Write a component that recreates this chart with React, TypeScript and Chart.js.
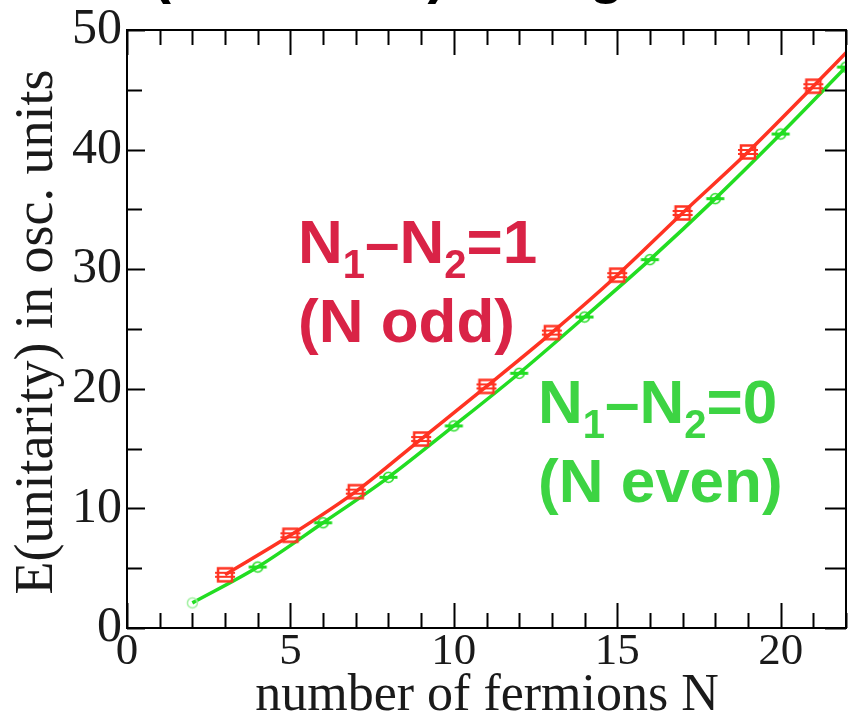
import React, { useEffect, useRef } from 'react';
import { Chart, registerables } from 'chart.js';

Chart.register(...registerables);

// ---- data ----
const oddN = [3, 5, 7, 9, 11, 13, 15, 17, 19, 21];
const oddE = [4.45, 7.75, 11.4, 15.8, 20.2, 24.7, 29.5, 34.7, 39.8, 45.3];
const evenN = [2, 4, 6, 8, 10, 12, 14, 16, 18, 20, 22];
const evenE = [2.1, 5.1, 8.8, 12.6, 16.9, 21.3, 26.0, 30.8, 35.9, 41.3, 46.9];
const oddCurveEndN = [22];
const oddCurveEndE = [48.1];
const xTickValues = [0, 5, 10, 15, 20];
const yTickValues = [0, 10, 20, 30, 40, 50];
const xRange = [0, 22];
const yRange = [0, 50];

const xTitle = 'number of fermions N';
const yTitle = 'E(unitarity) in osc. units';
const topTitle = '(harmonic) Energies';

// ---- styles ----
const RED_LINE = '#ff3322';
const GREEN_LINE = '#22dd22';
const GREEN_LIGHT = '#9ef09e';
const RED_TEXT = '#d92346';
const GREEN_TEXT = '#3dd443';
const AXIS_TEXT = '#1a1a1a';
const SERIF = '"Liberation Serif", "Times New Roman", serif';
const SANS = '"Liberation Sans", Arial, sans-serif';

function makeRedMarker() {
  const c = document.createElement('canvas');
  c.width = 22;
  c.height = 18;
  const g = c.getContext('2d')!;
  g.strokeStyle = RED_LINE;
  g.lineWidth = 2.5;
  g.strokeRect(4, 2.5, 14, 13);
  g.lineWidth = 2;
  g.beginPath();
  g.moveTo(1, 7);
  g.lineTo(21, 7);
  g.moveTo(1, 11);
  g.lineTo(21, 11);
  g.stroke();
  return c;
}

function makeGreenMarker(color: string, bar: boolean) {
  const c = document.createElement('canvas');
  c.width = 21;
  c.height = 15;
  const g = c.getContext('2d')!;
  g.strokeStyle = color;
  g.lineWidth = 1.5;
  g.beginPath();
  g.arc(10.5, 7.5, 5, 0, Math.PI * 2);
  g.stroke();
  if (bar) {
    g.lineWidth = 3;
    g.beginPath();
    g.moveTo(1.5, 7.5);
    g.lineTo(19.5, 7.5);
    g.stroke();
  }
  return c;
}

type Part = [string, boolean];
function drawParts(ctx: CanvasRenderingContext2D, x: number, y: number, parts: Part[], color: string) {
  ctx.fillStyle = color;
  ctx.textAlign = 'left';
  ctx.textBaseline = 'alphabetic';
  let cx = x;
  for (const [t, sub] of parts) {
    ctx.font = sub ? `bold 40px ${SANS}` : `bold 62px ${SANS}`;
    ctx.fillText(t, cx, sub ? y + 15 : y);
    cx += ctx.measureText(t).width;
  }
}

const decorPlugin = {
  id: 'decor',
  afterDraw(chart: any) {
    const ctx: CanvasRenderingContext2D = chart.ctx;
    const { left, right, top, bottom } = chart.chartArea;
    const xs = chart.scales.x;
    const ys = chart.scales.y;
    ctx.save();
    // frame
    ctx.strokeStyle = '#000';
    ctx.lineWidth = 2;
    ctx.strokeRect(left, top, right - left, bottom - top);
    // inward ticks
    ctx.beginPath();
    for (let v = xRange[0]; v <= xRange[1]; v += 1) {
      const px = Math.round(xs.getPixelForValue(v)) + 0.5;
      const len = v % 5 === 0 ? 25 : 15;
      ctx.moveTo(px, bottom);
      ctx.lineTo(px, bottom - len);
      ctx.moveTo(px, top);
      ctx.lineTo(px, top + len);
    }
    for (let v = yRange[0]; v <= yRange[1]; v += 5) {
      const py = Math.round(ys.getPixelForValue(v)) + 0.5;
      const len = v % 10 === 0 ? 18 : 15;
      ctx.moveTo(left, py);
      ctx.lineTo(left + len, py);
      ctx.moveTo(right, py);
      ctx.lineTo(right - 21, py);
    }
    ctx.stroke();

    // axis titles
    ctx.fillStyle = AXIS_TEXT;
    ctx.font = `52px ${SERIF}`;
    ctx.textAlign = 'center';
    ctx.textBaseline = 'alphabetic';
    ctx.fillText(xTitle, 487, 710);
    ctx.save();
    ctx.translate(52, 332);
    ctx.rotate(-Math.PI / 2);
    ctx.font = `54px ${SERIF}`;
    ctx.fillText(yTitle, 0, 0);
    ctx.restore();

    // top (cut-off) title
    ctx.fillStyle = '#000';
    ctx.font = `bold 57px ${SANS}`;
    ctx.textAlign = 'left';
    ctx.fillText(topTitle, 152, -8);

    // annotations
    drawParts(ctx, 298, 263, [['N', false], ['1', true], ['\u2013N', false], ['2', true], ['=1', false]], RED_TEXT);
    drawParts(ctx, 298, 342, [['(N odd)', false]], RED_TEXT);
    drawParts(ctx, 538, 423, [['N', false], ['1', true], ['\u2013N', false], ['2', true], ['=0', false]], GREEN_TEXT);
    drawParts(ctx, 538, 502, [['(N even)', false]], GREEN_TEXT);
    ctx.restore();
  },
};

export default function App() {
  const ref = useRef<HTMLCanvasElement>(null);
  useEffect(() => {
    document.body.style.margin = '0';
    const redMarker = makeRedMarker();
    const greenMarker = makeGreenMarker(GREEN_LINE, true);
    const greenFirst = makeGreenMarker(GREEN_LIGHT, false);

    const redPts = oddN.map((n, i) => ({ x: n, y: oddE[i] }));
    const greenPts = evenN.map((n, i) => ({ x: n, y: evenE[i] }));
    const redCurve = [...redPts, ...oddCurveEndN.map((n, i) => ({ x: n, y: oddCurveEndE[i] }))];

    const chart = new Chart(ref.current!, {
      type: 'scatter',
      data: {
        datasets: [
          {
            label: 'odd markers',
            data: redPts,
            showLine: false,
            pointStyle: redMarker as any,
            pointRadius: 8,
            order: 0,
          },
          {
            label: 'even markers',
            data: greenPts,
            showLine: false,
            pointStyle: ((c: any) => (c.dataIndex === 0 ? greenFirst : greenMarker)) as any,
            pointRadius: 8,
            order: 0,
          },
          {
            label: 'odd curve',
            data: redCurve,
            showLine: true,
            borderColor: RED_LINE,
            borderWidth: 3.5,
            pointRadius: 0,
            cubicInterpolationMode: 'monotone',
            order: 1,
          },
          {
            label: 'even curve',
            data: greenPts,
            showLine: true,
            borderColor: GREEN_LINE,
            borderWidth: 3.5,
            pointRadius: 0,
            cubicInterpolationMode: 'monotone',
            order: 1,
          },
        ] as any,
      },
      options: {
        responsive: false,
        animation: false,
        devicePixelRatio: 1,
        layout: { padding: { top: 27, right: 2, left: 0, bottom: 0 } },
        plugins: { legend: { display: false }, tooltip: { enabled: false } },
        scales: {
          x: {
            type: 'linear',
            min: xRange[0],
            max: xRange[1],
            grid: { display: false, drawTicks: false },
            border: { display: false },
            afterBuildTicks: (s: any) => {
              s.ticks = xTickValues.map((v) => ({ value: v }));
            },
            afterFit: (s: any) => {
              s.height = 87;
            },
            ticks: {
              color: AXIS_TEXT,
              padding: 2,
              maxRotation: 0,
              autoSkip: false,
              font: { family: SERIF, size: 45, lineHeight: 1 },
            },
          },
          y: {
            type: 'linear',
            min: yRange[0],
            max: yRange[1],
            grid: { display: false, drawTicks: false },
            border: { display: false },
            afterBuildTicks: (s: any) => {
              s.ticks = yTickValues.map((v) => ({ value: v }));
            },
            afterFit: (s: any) => {
              s.width = 127;
            },
            ticks: {
              color: AXIS_TEXT,
              padding: 5,
              autoSkip: false,
              font: { family: SERIF, size: 50, lineHeight: 1 },
            },
          },
        },
      },
      plugins: [decorPlugin],
    } as any);
    return () => chart.destroy();
  }, []);

  return (
    <div style={{ width: 850, height: 715, overflow: 'hidden', position: 'relative' }}>
      <canvas ref={ref} width={855} height={715} style={{ display: 'block', width: 855, height: 715 }} />
    </div>
  );
}
